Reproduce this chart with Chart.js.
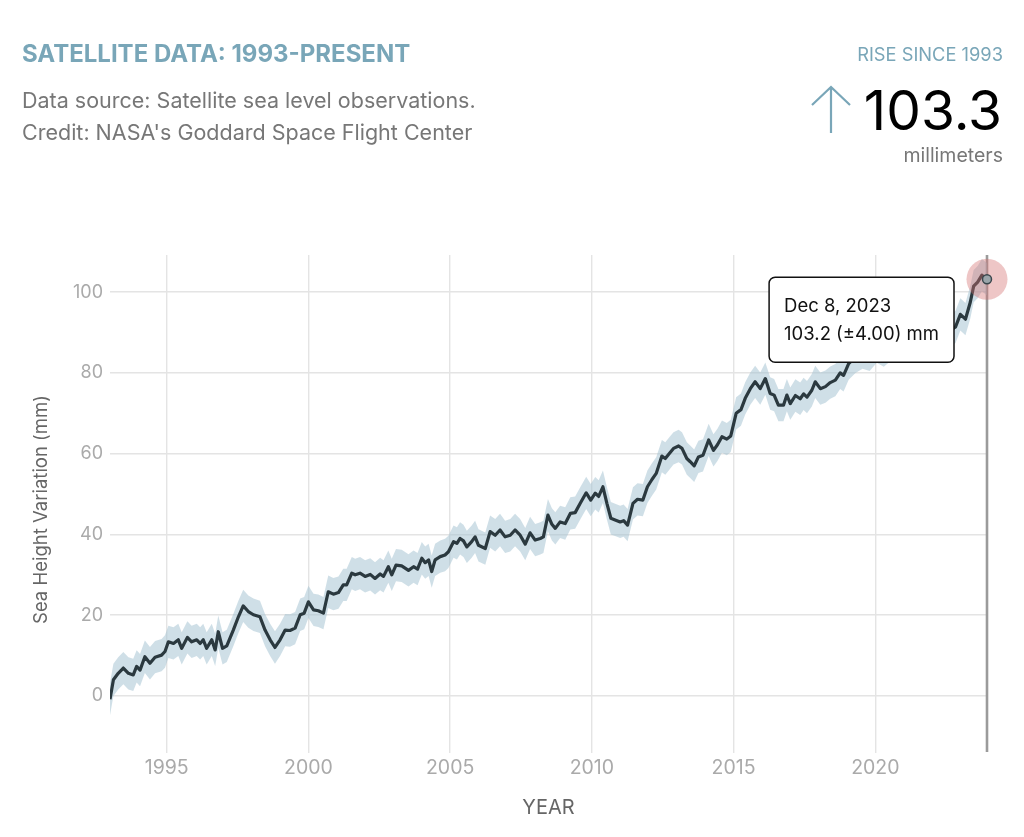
<!DOCTYPE html>
<html>
<head>
<meta charset="utf-8">
<script src="https://cdn.jsdelivr.net/npm/chart.js@4.4.1/dist/chart.umd.min.js"></script>
<style>
  html, body { margin: 0; padding: 0; background: #fff; }
  body { width: 1024px; height: 837px; position: relative; overflow: hidden; font-family: Inter, "Noto Sans", sans-serif; }
  #wrap { position: absolute; left: 0; top: 0; width: 1024px; height: 837px; }
  .abs { position: absolute; white-space: nowrap; }
  #title { left: 22px; top: 41.5px; font-size: 24px; line-height: 24px; font-weight: 700; color: #79a6b8; }
  #sub { left: 22px; top: 84px; font-size: 21.5px; line-height: 32px; color: #777; }
  #riseLbl { right: 21px; top: 44.7px; font-size: 18.3px; line-height: 18.3px; color: #79a6b8; }
  #riseVal { right: 22px; top: 82.5px; font-size: 55px; line-height: 55px; color: #000; }
  #riseUnit { right: 21px; top: 145.5px; font-size: 19.5px; line-height: 19.5px; color: #777; }
  #arrow { left: 808px; top: 83px; }
</style>
</head>
<body>
<div id="wrap"><canvas id="c" width="1024" height="837"></canvas></div>
<div class="abs" id="title">SATELLITE DATA: 1993-PRESENT</div>
<div class="abs" id="sub">Data source: Satellite sea level observations.<br>Credit: NASA's Goddard Space Flight Center</div>
<div class="abs" id="riseLbl">RISE SINCE 1993</div>
<svg class="abs" id="arrow" width="46" height="54" viewBox="0 0 46 54">
  <path d="M23 4 L23 50 M4 22 L23 4 L42 22" fill="none" stroke="#79a6b8" stroke-width="2.2"/>
</svg>
<div class="abs" id="riseVal">103.3</div>
<div class="abs" id="riseUnit">millimeters</div>
<script>
// ---- data ----
const YEARS = [
  1993.00,1993.12,1993.29,1993.47,1993.65,1993.82,1993.94,1994.06,1994.23,1994.41,1994.59,1994.82,1994.94,
  1995.06,1995.24,1995.41,1995.53,1995.73,1995.88,1996.06,1996.18,1996.29,1996.41,1996.59,1996.71,1996.82,1996.97,
  1997.12,1997.35,1997.53,1997.70,1997.88,1998.06,1998.29,1998.47,1998.65,1998.82,1999.00,1999.18,1999.35,1999.53,
  1999.71,1999.85,2000.00,2000.18,2000.35,2000.53,2000.70,2000.88,2001.06,2001.23,2001.35,2001.53,2001.65,2001.82,
  2002.00,2002.18,2002.35,2002.53,2002.65,2002.82,2002.94,2003.09,2003.29,2003.53,2003.71,2003.85,2004.00,2004.12,
  2004.24,2004.35,2004.47,2004.65,2004.82,2004.94,2005.12,2005.24,2005.35,2005.47,2005.59,2005.76,2005.88,2006.00,
  2006.24,2006.41,2006.59,2006.76,2006.94,2007.12,2007.29,2007.47,2007.65,2007.82,2008.00,2008.18,2008.29,2008.45,
  2008.59,2008.71,2008.88,2009.06,2009.24,2009.41,2009.59,2009.80,2009.96,2010.12,2010.24,2010.39,2010.53,2010.67,
  2010.82,2011.00,2011.12,2011.26,2011.45,2011.61,2011.80,2011.96,2012.12,2012.27,2012.47,2012.59,2012.74,2012.88,
  2013.06,2013.18,2013.35,2013.47,2013.61,2013.76,2013.92,2014.12,2014.29,2014.43,2014.59,2014.76,2014.90,2015.09,
  2015.26,2015.41,2015.59,2015.76,2015.94,2016.12,2016.29,2016.43,2016.58,2016.76,2016.88,2017.00,2017.18,2017.35,
  2017.47,2017.59,2017.76,2017.88,2018.06,2018.24,2018.41,2018.59,2018.76,2018.88,2019.06,2019.30,2019.55,2019.80,
  2020.05,2020.30,2020.55,2020.80,2021.05,2021.30,2021.55,2021.80,2022.05,2022.30,2022.55,2022.70,2022.83,2023.00,
  2023.18,2023.35,2023.47,2023.61,2023.76,2023.94
];
const SEA_LEVEL_MM = [
  -0.8,4.0,5.6,6.9,5.6,5.2,7.3,6.4,9.7,8.1,9.6,10.1,11.0,
  13.4,13.0,13.9,11.8,14.5,13.4,13.9,13.0,13.9,11.8,13.9,11.4,15.9,11.8,
  12.4,16.3,19.6,22.3,20.9,20.1,19.6,16.3,13.9,12.0,13.9,16.3,16.2,16.8,
  20.1,20.5,23.3,21.3,21.1,20.5,25.8,25.2,25.6,27.5,27.5,30.4,30.0,30.4,
  29.6,30.1,29.1,30.2,29.6,32.0,30.0,32.4,32.2,31.1,32.0,31.4,34.1,33.0,
  33.7,30.8,33.7,34.5,34.9,35.7,38.2,37.8,39.0,38.4,36.9,38.2,39.4,37.3,
  36.5,40.7,39.8,41.1,39.4,39.8,41.1,39.8,37.6,40.4,38.6,39.0,39.4,44.8,
  42.5,41.5,43.1,42.7,45.2,45.4,47.7,50.3,48.5,50.2,49.4,51.8,47.7,44.0,
  43.6,43.1,43.4,42.3,47.7,48.7,48.5,51.8,53.6,55.1,59.4,58.8,60.1,61.3,
  61.9,61.3,58.8,58.0,57.0,59.2,59.6,63.4,60.8,62.2,64.2,63.6,64.4,70.0,
  70.9,73.7,76.1,77.8,76.1,78.6,74.9,74.5,72.0,72.0,74.5,72.4,74.4,73.6,
  74.8,74.0,75.7,77.8,76.1,76.6,77.6,78.2,80.0,79.4,82.3,84.0,85.0,84.5,
  86.5,85.5,87.0,88.5,88.0,89.5,89.0,90.5,91.5,90.5,92.0,90.8,91.4,94.5,
  93.3,97.5,101.5,102.5,104.2,103.2
];
const UNCERTAINTY_MM = 4.0;
const X_TICKS = [1995, 2000, 2005, 2010, 2015, 2020];
const Y_TICKS = [0, 20, 40, 60, 80, 100];
const HOVER_DATE = "Dec 8, 2023";
const Y_TITLE = "Sea Height Variation (mm)";
const Y_RANGE = [-12.4, 109.2];

const linePts = YEARS.map((x, i) => ({ x, y: SEA_LEVEL_MM[i] }));
const upperPts = YEARS.map((x, i) => ({ x, y: SEA_LEVEL_MM[i] + UNCERTAINTY_MM }));
const lowerPts = YEARS.map((x, i) => ({ x, y: SEA_LEVEL_MM[i] - UNCERTAINTY_MM }));

const hoverPlugin = {
  id: 'hoverMark',
  beforeDatasetsDraw(chart) {
    const meta = chart.getDatasetMeta(2);
    const p = meta.data[meta.data.length - 1];
    const ctx = chart.ctx, a = chart.chartArea;
    ctx.save();
    ctx.strokeStyle = '#9b9b9b';
    ctx.lineWidth = 2.6;
    ctx.beginPath();
    ctx.moveTo(p.x, a.top);
    ctx.lineTo(p.x, a.bottom + 6);
    ctx.stroke();
    // y-axis title
    ctx.translate(41.5, (a.top + a.bottom) / 2 + 9);
    ctx.rotate(-Math.PI / 2);
    ctx.fillStyle = '#666';
    ctx.font = '18.5px Inter, "Noto Sans", sans-serif';
    ctx.textAlign = 'center';
    ctx.textBaseline = 'middle';
    ctx.fillText(Y_TITLE, 0, 0);
    ctx.restore();
  },
  afterDatasetsDraw(chart) {
    const meta = chart.getDatasetMeta(2);
    const p = meta.data[meta.data.length - 1];
    const ctx = chart.ctx;
    ctx.save();
    ctx.fillStyle = 'rgba(212,112,112,0.4)';
    ctx.beginPath(); ctx.arc(p.x, p.y, 20.5, 0, Math.PI * 2); ctx.fill();
    ctx.fillStyle = '#9aa5aa';
    ctx.strokeStyle = '#3a474d';
    ctx.lineWidth = 1.5;
    ctx.beginPath(); ctx.arc(p.x, p.y, 4.5, 0, Math.PI * 2); ctx.fill(); ctx.stroke();
    ctx.restore();
  },
  afterDraw(chart) {
    const meta = chart.getDatasetMeta(2);
    const p = meta.data[meta.data.length - 1];
    const last = SEA_LEVEL_MM[SEA_LEVEL_MM.length - 1];
    const l1 = HOVER_DATE;
    const l2 = last.toFixed(1) + ' (\u00B1' + UNCERTAINTY_MM.toFixed(2) + ') mm';
    const ctx = chart.ctx;
    ctx.save();
    ctx.font = '18.5px Inter, "Noto Sans", sans-serif';
    const w = Math.max(ctx.measureText(l1).width, ctx.measureText(l2).width) + 30;
    const h = 85;
    const right = p.x - 33, top = p.y - 2;
    const left = right - w;
    ctx.fillStyle = '#fff';
    ctx.strokeStyle = '#111';
    ctx.lineWidth = 1.5;
    ctx.beginPath();
    ctx.roundRect(left, top, w, h, 6);
    ctx.fill(); ctx.stroke();
    ctx.fillStyle = '#111';
    ctx.textBaseline = 'alphabetic';
    ctx.textAlign = 'left';
    ctx.fillText(l1, left + 15, top + 35);
    ctx.fillText(l2, left + 15, top + 63);
    ctx.restore();
  }
};

const whiteBg = {
  id: 'whiteBg',
  beforeDraw(chart) {
    const ctx = chart.ctx;
    ctx.save(); ctx.fillStyle = '#fff'; ctx.fillRect(0, 0, chart.width, chart.height); ctx.restore();
  }
};

new Chart(document.getElementById('c'), {
  type: 'line',
  data: {
    datasets: [
      { data: upperPts, order: 2, borderWidth: 0, pointRadius: 0, fill: '+1', backgroundColor: 'rgba(160,192,207,0.5)', borderColor: 'rgba(0,0,0,0)' },
      { data: lowerPts, order: 3, borderWidth: 0, pointRadius: 0, fill: false, borderColor: 'rgba(0,0,0,0)' },
      { data: linePts, order: 0, borderWidth: 3.2, pointRadius: 0, fill: false, borderColor: '#2b393f', borderJoinStyle: 'round', tension: 0 }
    ]
  },
  options: {
    responsive: false,
    animation: false,
    devicePixelRatio: 1,
    events: [],
    layout: { padding: { top: 255, right: 37, left: 0, bottom: 0 } },
    plugins: { legend: { display: false }, tooltip: { enabled: false } },
    scales: {
      x: {
        type: 'linear',
        min: YEARS[0],
        max: YEARS[YEARS.length - 1],
        afterBuildTicks: s => { s.ticks = X_TICKS.map(v => ({ value: v })); },
        afterFit: s => { s.height = 91; },
        grid: { color: '#e4e4e4', lineWidth: 1.4, drawTicks: true, tickLength: 7 },
        border: { display: false },
        ticks: { color: '#aaa', font: { family: 'Inter', size: 19.5 }, padding: 3, maxRotation: 0, callback: v => String(v) },
        title: { display: true, text: 'YEAR', color: '#666', font: { family: 'Inter', size: 20 }, padding: { top: 0, bottom: 17 } }
      },
      y: {
        min: Y_RANGE[0],
        max: Y_RANGE[1],
        afterBuildTicks: s => { s.ticks = Y_TICKS.map(v => ({ value: v })); },
        afterFit: s => { s.width = 110; },
        grid: { color: '#e4e4e4', lineWidth: 1.4, drawTicks: false },
        border: { display: false },
        ticks: { color: '#aaa', font: { family: 'Inter', size: 18 }, padding: 7, callback: v => String(v) },
        title: { display: false }
      }
    }
  },
  plugins: [whiteBg, hoverPlugin]
});
</script>
</body>
</html>
